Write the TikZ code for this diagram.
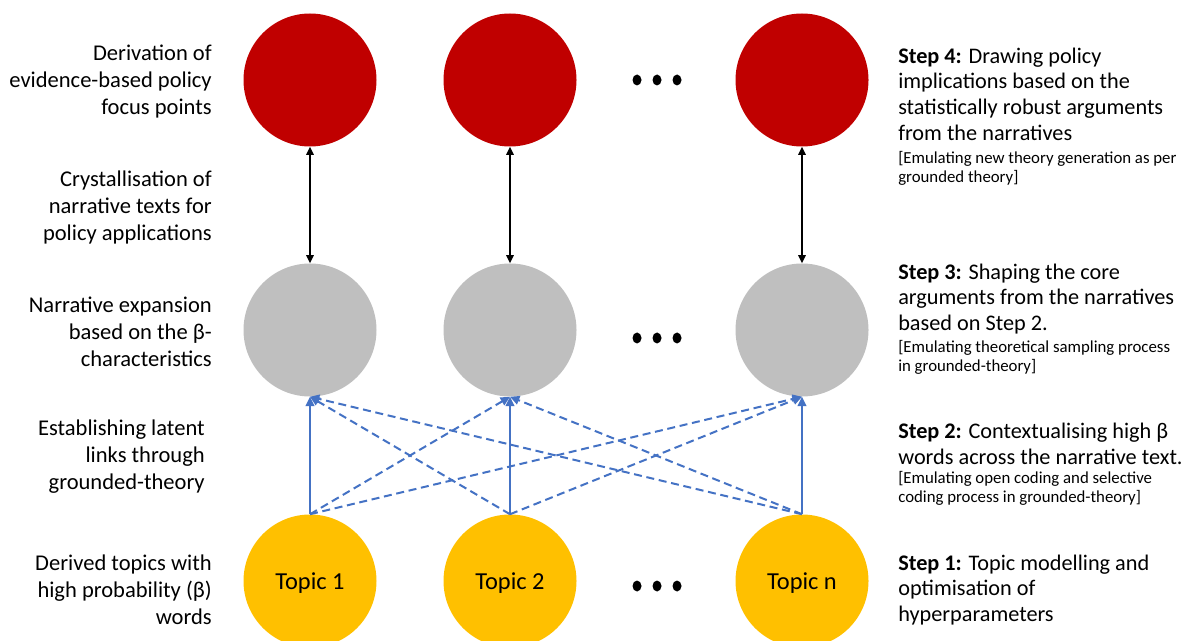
\documentclass[tikz,border=0pt]{standalone}
\usepackage{fontspec}
\setmainfont{Carlito}
\usepackage{xcolor}
\definecolor{focusRed}{HTML}{C00000}
\definecolor{narrGray}{HTML}{BFBFBF}
\definecolor{topicGold}{HTML}{FFC000}
\definecolor{linkBlue}{HTML}{4472C4}
\usepackage{tikz}
\usetikzlibrary{arrows.meta,positioning}
\tikzset{%
  stageCircle/.style={%
    circle,
    draw=none,
    inner sep=0pt,
    minimum size=99.75pt
  },
  focusCircle/.style={stageCircle, fill=focusRed},
  narrCircle/.style={stageCircle, fill=narrGray},
  topicCircle/.style={%
    stageCircle,
    fill=topicGold,
    text depth=-2pt,
    font=\fontsize{18.3}{21}\selectfont
  },
  levelLabel/.style={%
    anchor=east,
    inner sep=0pt,
    align=right,
    font=\fontsize{16.9}{20.25}\selectfont
  },
  stepLabel/.style={%
    anchor=west,
    inner sep=0pt,
    align=left,
    font=\fontsize{16.7}{19.3}\selectfont
  },
  stepNote/.style={%
    anchor=west,
    inner sep=0pt,
    align=left,
    font=\fontsize{12.6}{14.4}\selectfont
  },
  crystalArrow/.style={%
    {Triangle[length=6pt,width=5.5pt]}-{Triangle[length=6pt,width=5.5pt]},
    line width=1.2pt,
    color=black
  },
  linkArrow/.style={%
    -{Triangle[length=7pt,width=6.5pt]},
    line width=1.5pt,
    color=linkBlue
  },
  latentArrow/.style={linkArrow, dash pattern=on 6pt off 3.5pt}
}

\begin{document}
\begin{tikzpicture}[x=0.75pt,y=-0.75pt]
  \useasboundingbox (0,0) rectangle (1195,641);

  % circles, three columns
  \node[focusCircle] (focus1) at (310,80) {};
  \node[focusCircle] (focus2) at (510,80) {};
  \node[focusCircle] (focus3) at (802,80) {};
  \node[narrCircle] (narr1) at (310,330) {};
  \node[narrCircle] (narr2) at (510,330) {};
  \node[narrCircle] (narr3) at (802,330) {};
  \node[topicCircle] (topic1) at (310,581) {Topic 1};
  \node[topicCircle] (topic2) at (510,581) {Topic 2};
  \node[topicCircle] (topic3) at (802,581) {Topic n};

  % ellipsis dots
  \foreach \y in {80,338,586}
    \foreach \x in {637,657,677}
      \fill (\x,\y) ellipse (4.5 and 5.5);

  % left column
  \node[levelLabel] (focusLabel) at (212,82) {Derivation of\\evidence-based policy\\focus points};
  \node[levelLabel] (crystalLabel) at (212,207) {Crystallisation of\\narrative texts for\\policy applications};
  \node[levelLabel] (expansionLabel) at (212,332) {Narrative expansion\\based on the β-\\characteristics};
  \node[levelLabel] (latentLabel) at (205,457) {Establishing latent\\links through\\grounded-theory};
  \node[levelLabel] (derivedLabel) at (212,590) {Derived topics with\\high probability (β)\\words};

  % right column
  \node[stepLabel] (step4) at (898,94) {\textbf{Step 4:} Drawing policy\\implications based on the\\statistically robust arguments\\from the narratives};
  \node[stepNote] (note4) at (898,168) {[Emulating new theory generation as per\\grounded theory]};
  \node[stepLabel] (step3) at (898,299) {\textbf{Step 3:} Shaping the core\\arguments from the narratives\\based on Step 2.};
  \node[stepNote] (note3) at (898,357) {[Emulating theoretical sampling process\\in grounded-theory]};
  \node[stepLabel] (step2) at (898,444) {\textbf{Step 2:} Contextualising high β\\words across the narrative text.};
  \node[stepNote] (note2) at (898,488) {[Emulating open coding and selective\\coding process in grounded-theory]};
  \node[stepLabel] (step1) at (898,590) {\textbf{Step 1:} Topic modelling and\\optimisation of\\hyperparameters};

  % connectors
  \foreach \i in {1,2,3}
    \draw[crystalArrow] (focus\i.south) -- (narr\i.north);
  \foreach \i in {1,2,3}
    \draw[linkArrow] (topic\i.north) -- (narr\i.south);
  \foreach \i/\j in {1/2,1/3,2/1,2/3,3/1,3/2}
    \draw[latentArrow] (topic\i.north) -- (narr\j.south);
\end{tikzpicture}
\end{document}
